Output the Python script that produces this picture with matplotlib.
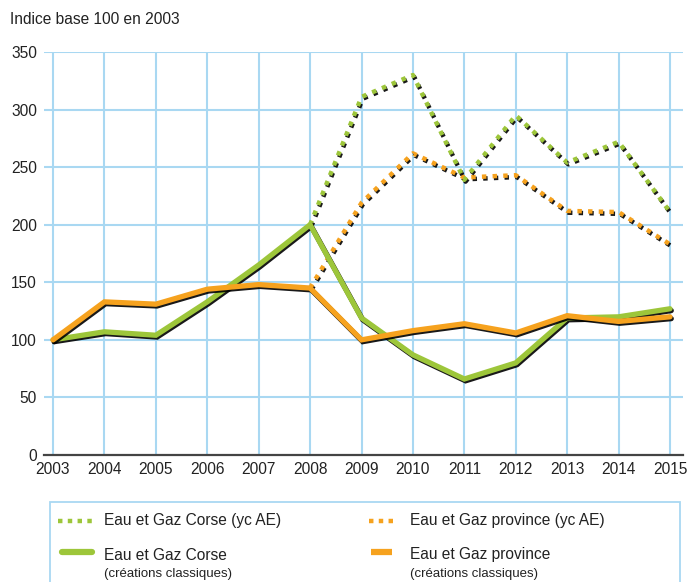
import matplotlib
matplotlib.use("Agg")
import matplotlib.pyplot as plt
import matplotlib.patches as patches
import matplotlib.patheffects as pe
from matplotlib.lines import Line2D

plt.rcParams['font.family'] = ['Liberation Sans', 'DejaVu Sans']

# data
years = list(range(2003, 2016))
corse_classic = [100, 107, 104, 133, 165, 200, 119, 87, 66, 80, 119, 120, 127]
province_classic = [100, 133, 131, 144, 148, 145, 100, 108, 114, 106, 121, 116, 120]
years_ae = list(range(2008, 2016))
corse_ae = [200, 311, 330, 239, 295, 254, 272, 211]
province_ae = [145, 219, 262, 241, 243, 212, 211, 183]

title = "Indice base 100 en 2003"
labels = ["Eau et Gaz Corse (yc AE)", "Eau et Gaz province (yc AE)",
          "Eau et Gaz Corse", "Eau et Gaz province"]
sub_label = "(créations classiques)"

GREEN = '#9dc63a'
ORANGE = '#f6a21e'
GRID = '#a9d8f2'
TEXT = '#222222'
FS = 11.2

W, H = 690, 582
fig = plt.figure(figsize=(W / 100, H / 100), dpi=100)

# axes placed in pixel terms
left, right, top, bottom = 44, 683, 52, 455
ax = fig.add_axes([left / W, 1 - bottom / H, (right - left) / W, (bottom - top) / H])
ax.set_xlim(2003 - 9 / 51.42, 2015 + 13 / 51.42)
ax.set_ylim(0, 350)

for s in ['top', 'right', 'left']:
    ax.spines[s].set_visible(False)
ax.spines['bottom'].set_color('#444444')
ax.spines['bottom'].set_linewidth(1.6)
ax.spines['bottom'].set_zorder(3)

ax.set_yticks(range(0, 351, 50))
ax.set_xticks(years)
ax.tick_params(axis='both', length=0, labelsize=FS, colors=TEXT)
ax.tick_params(axis='y', pad=5)
ax.tick_params(axis='x', pad=5)
for y in range(50, 351, 50):
    ax.axhline(y, color=GRID, lw=1.5, zorder=0)
for x in years:
    ax.axvline(x, color=GRID, lw=1.5, zorder=0)

shadow = [pe.SimpleLineShadow(offset=(0.9, -1.3), shadow_color='black', alpha=0.9), pe.Normal()]

ax.plot(years, corse_classic, color=GREEN, lw=3.8, solid_capstyle='round',
        solid_joinstyle='miter', path_effects=shadow, zorder=4)
ax.plot(years, province_classic, color=ORANGE, lw=3.8, solid_capstyle='round',
        solid_joinstyle='miter', path_effects=shadow, zorder=5)
ax.plot(years_ae, province_ae, color=ORANGE, lw=3.2, linestyle=(0, (1, 1.4)),
        dash_capstyle='butt', path_effects=shadow, zorder=3)
ax.plot(years_ae, corse_ae, color=GREEN, lw=3.2, linestyle=(0, (1, 1.4)),
        dash_capstyle='butt', path_effects=shadow, zorder=3)

fig.text(10 / W, 1 - 20 / H, title, fontsize=FS, color=TEXT, va='center', ha='left')

# legend box drawn by hand
def fx(px):
    return px / W

def fy(py):
    return 1 - py / H

box = patches.Rectangle((fx(50), fy(600)), fx(680) - fx(50), fy(502) - fy(600),
                        transform=fig.transFigure, fill=False, edgecolor=GRID, lw=1.3)
fig.add_artist(box)

handles = [
    (58, 92, 521, GREEN, 'dot'),
    (369, 393, 521, ORANGE, 'dot'),
    (62, 92, 552, GREEN, 'solid'),
    (371, 392, 552, ORANGE, 'solid'),
]
text_x = [104, 410, 104, 410]
text_y = [521, 521, 555, 555]
for (x0, x1, yy, c, kind), lab, tx, ty in zip(handles, labels, text_x, text_y):
    if kind == 'dot':
        ln = Line2D([fx(x0), fx(x1)], [fy(yy), fy(yy)], transform=fig.transFigure,
                    color=c, lw=3.2, linestyle=(0, (1, 1.2)), dash_capstyle='butt')
    else:
        ln = Line2D([fx(x0), fx(x1)], [fy(yy), fy(yy)], transform=fig.transFigure,
                    color=c, lw=4.5, solid_capstyle='round' if c == GREEN else 'butt')
    fig.add_artist(ln)
    fig.text(fx(tx), fy(ty), lab, fontsize=FS, color=TEXT, va='center', ha='left')
    if kind == 'solid':
        fig.text(fx(tx), fy(574), sub_label, fontsize=9.5, color=TEXT, va='center', ha='left')

fig.savefig('out.png', dpi=100)
